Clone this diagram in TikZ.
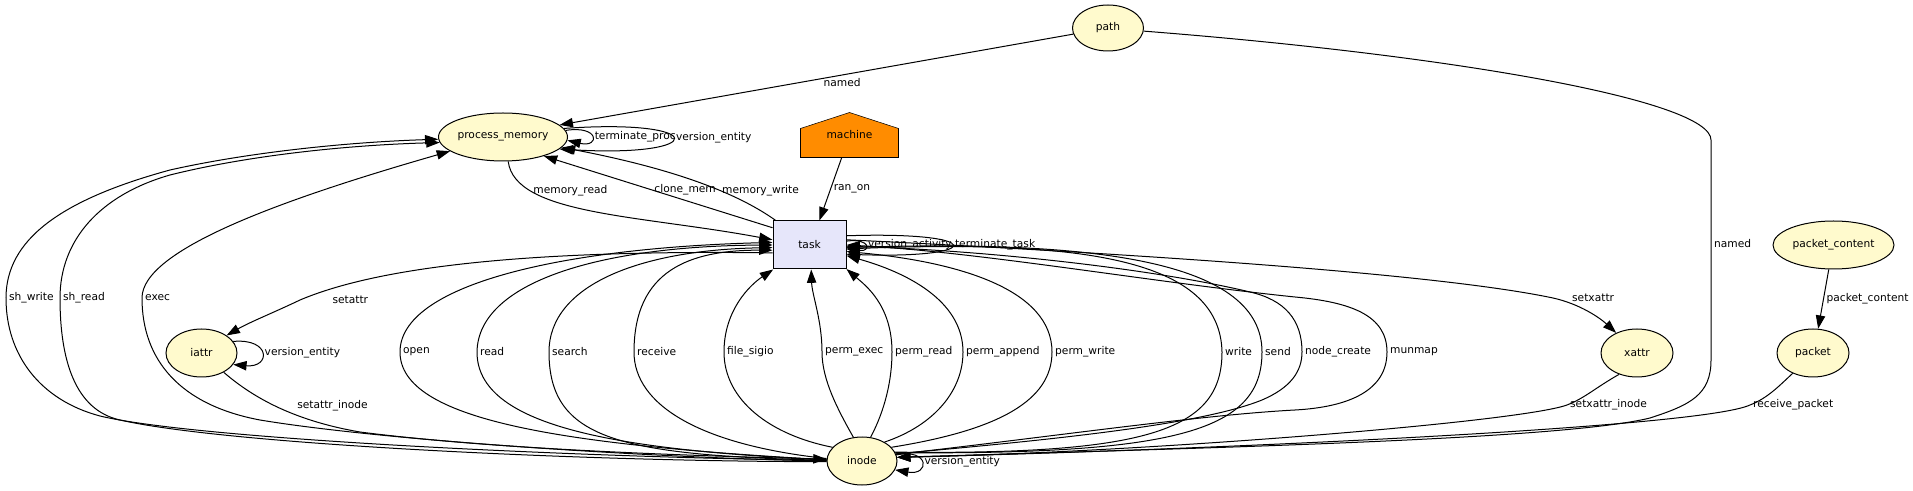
\documentclass[tikz,border=0pt]{standalone}
\usepackage{fontspec}
\setmainfont{DejaVu Sans}
\usetikzlibrary{arrows.meta,positioning,shapes.geometric,backgrounds,calc}
\definecolor{lemon}{RGB}{255,250,205}
\definecolor{lav}{RGB}{230,230,250}
\definecolor{dorange}{RGB}{255,140,0}

\begin{document}
\begin{tikzpicture}[x=0.75pt, y=-0.75pt, font=\fontsize{8}{9.6}\selectfont, line width=0.75pt,
  >={Triangle[length=10pt,width=7pt]},
  ent/.style={ellipse, draw, fill=lemon, inner sep=0pt, minimum height=36pt},
  act/.style={rectangle, draw, fill=lav, inner sep=0pt, minimum width=54.75pt, minimum height=36pt},
  agt/.style={rectangle, inner sep=0pt, minimum width=72.75pt, minimum height=33pt},
  flow/.style={draw, ->},
  lbl/.style={inner sep=2pt}]
  \useasboundingbox (0,0) rectangle (1913,491);

  \node[ent, minimum width=53.25pt, minimum height=34.5pt] (path) at (1108,28) {path};
  \node[ent, minimum width=96.75pt] (pm) at (503,137) {process\_memory};
  \node[agt] (machine) at (849.5,135) {machine};
  \node[act] (task) at (809.5,245) {task};
  \node[ent, minimum width=90.75pt] (pc) at (1833.5,245) {packet\_content};
  \node[ent, minimum width=53.25pt] (iattr) at (201.5,353) {iattr};
  \node[ent, minimum width=54pt] (xattr) at (1637,353) {xattr};
  \node[ent, minimum width=54pt] (packet) at (1813,353) {packet};
  \node[ent, minimum width=52.5pt] (inode) at (862,461) {inode};
  \begin{scope}[on background layer]
    \draw[fill=dorange] (machine.south west) -- (machine.south east) -- ($(machine.north east)+(0,16)$)
      -- (machine.north) -- ($(machine.north west)+(0,16)$) -- cycle;
  \end{scope}

  % path
  \draw[flow] (path.190) -- node[lbl, below, pos=.45] (l-named1) {named} (pm.12);
  \draw[flow] (path.-5) .. controls (1450,55) and (1711,100) .. (1711,140) -- (1711,244)
    node[lbl, right] (l-named2) {named} -- (1711,360) .. controls (1711,395) and (1690,405) .. (1650,418)
    .. controls (1560,440) and (1200,448) .. (inode.6);

  % process_memory
  \draw[flow] (pm.6) .. controls (600,125) and (600,148) .. (pm.-3) node[lbl, right, pos=.5] (l-termp) {terminate\_proc};
  \draw[flow] (pm.8) .. controls (710,118) and (710,158) .. (pm.-12) node[lbl, right, pos=.5] (l-verpm) {version\_entity};
  \draw[flow] (pm.-78) .. controls (515,215) and (640,215) .. (task.172) node[lbl, right, pos=.23] (l-memr) {memory\_read};
  \draw[flow] (task.155) -- node[lbl, right, pos=.53] (l-clone) {clone\_mem} (pm.-25);
  \draw[flow] (task.144) .. controls (740,195) and (680,170) .. (pm.-10) node[lbl, right, pos=.4] (l-memw) {memory\_write};
  \draw[flow] (machine.251) -- node[lbl, right, pos=.5] (l-ran) {ran\_on} (task.68);

  % task
  \draw[flow] (task.6) .. controls (871,238) and (871,252) .. (task.-6) node[lbl, right, pos=.5] (l-vact) {version\_activity};
  \draw[flow] (task.14) .. controls (987,231) and (987,259) .. (task.-14) node[lbl, right, pos=.5] (l-termt) {terminate\_task};
  \draw[flow] (task.192) .. controls (560,250) and (390,262) .. (300,300) node[lbl, right=22pt] (l-setattr) {setattr}
    .. controls (275,312) and (250,322) .. (iattr.35);
  \draw[flow] (task.8) .. controls (1100,252) and (1430,272) .. (1553,298) node[lbl, right=12pt] (l-setx) {setxattr}
    .. controls (1580,304) and (1600,318) .. (xattr.136);

  % attributes, packets
  \draw[flow] (iattr.20) .. controls (271,338) and (271,368) .. (iattr.-20) node[lbl, right, pos=.5] (l-veri) {version\_entity};
  \draw[flow] (iattr.-41) .. controls (250,395) and (290,420) .. (360,432) node[lbl, pos=.5, right=14pt] (l-seti) {setattr\_inode}
    .. controls (500,450) and (700,456) .. (inode.177);
  \draw[flow] (xattr.-130) .. controls (1595,388) and (1585,398) .. (1567,405) node[lbl, right] (l-setxi) {setxattr\_inode}
    .. controls (1520,422) and (1150,452) .. (inode.6);
  \draw[flow] (pc.-101) -- node[lbl, right] (l-pcont) {packet\_content} (packet.78);
  \draw[flow] (packet.-135) .. controls (1780,385) and (1768,398) .. (1750,405) node[lbl, right] (l-recp) {receive\_packet}
    .. controls (1700,428) and (1200,450) .. (inode.6);

  % inode
  \draw[flow] (inode.10) .. controls (930,448) and (930,476) .. (inode.-15) node[lbl, right, pos=.5] (l-verin) {version\_entity};
  \draw[flow] (inode.179) .. controls (600,458) and (200,440) .. (100,416) .. controls (40,400) and (6,355) .. (6,298)
    node[lbl, right] (l-shw) {sh\_write} .. controls (6,240) and (60,200) .. (170,170) .. controls (250,152) and (350,142) .. (pm.182);
  \draw[flow] (inode.181) .. controls (600,462) and (230,445) .. (120,420) .. controls (75,410) and (60,360) .. (60,298)
    node[lbl, right] (l-shr) {sh\_read} .. controls (60,240) and (100,195) .. (170,175) .. controls (250,155) and (350,145) .. (pm.185);
  \draw[flow] (inode.180) .. controls (650,458) and (380,440) .. (260,420) .. controls (180,405) and (142,360) .. (142,298)
    node[lbl, right] (l-exec) {exec} .. controls (142,250) and (280,200) .. (pm.195);
  \draw[flow] (inode.178) .. controls (560,445) and (400,420) .. (400,352) node[lbl, right] (l-open) {open}
    .. controls (400,285) and (560,248) .. (task.176);
  \draw[flow] (inode.178) .. controls (610,450) and (477,425) .. (477,352) node[lbl, right] (l-read) {read}
    .. controls (478,282) and (600,246) .. (task.180);
  \draw[flow] (inode.179) .. controls (620,455) and (549,440) .. (549,352) node[lbl, right] (l-search) {search}
    .. controls (549,285) and (640,250) .. (task.184);
  \draw[flow] (inode.176) .. controls (700,445) and (634,405) .. (634,352) node[lbl, right] (l-recv) {receive}
    .. controls (634,270) and (690,250) .. (task.188);
  \draw[flow] (inode.155) .. controls (770,435) and (724,400) .. (724,352) node[lbl, right] (l-sigio) {file\_sigio}
    .. controls (724,310) and (750,285) .. (task.-146);
  \draw[flow] (inode.110) .. controls (838,410) and (822,380) .. (822,352) node[lbl, right] (l-pexec) {perm\_exec}
    .. controls (822,320) and (812,295) .. (task.-86);
  \draw[flow] (inode.70) .. controls (885,410) and (892,380) .. (892,352) node[lbl, right] (l-pread) {perm\_read}
    .. controls (892,305) and (865,285) .. (task.-33);
  \draw[flow] (inode.40) .. controls (935,425) and (963,390) .. (963,352) node[lbl, right] (l-papp) {perm\_append}
    .. controls (963,300) and (905,272) .. (task.-16);
  \draw[flow] (inode.25) .. controls (1000,430) and (1052,400) .. (1052,352) node[lbl, right] (l-pwrite) {perm\_write}
    .. controls (1052,290) and (960,262) .. (task.-10);
  \draw[flow] (inode.15) .. controls (1150,455) and (1222,430) .. (1222,352) node[lbl, right] (l-write) {write}
    .. controls (1220,258) and (1080,240) .. (task.-6);
  \draw[flow] (inode.14) .. controls (1180,455) and (1262,430) .. (1262,352) node[lbl, right] (l-send) {send}
    .. controls (1262,262) and (1100,240) .. (task.-4);
  \draw[flow] (inode.12) .. controls (1050,440) and (1200,425) .. (1262,400) .. controls (1290,388) and (1302,372) .. (1302,352)
    node[lbl, right] (l-ncreate) {node\_create} .. controls (1302,320) and (1285,300) .. (1250,292)
    .. controls (1150,268) and (980,250) .. (task.-2);
  \draw[flow] (inode.11) .. controls (1050,437) and (1200,415) .. (1295,410) .. controls (1350,407) and (1387,390) .. (1387,352)
    node[lbl, right] (l-munmap) {munmap} .. controls (1387,315) and (1350,302) .. (1295,297)
    .. controls (1150,282) and (980,252) .. (task.0);
\end{tikzpicture}
\end{document}
